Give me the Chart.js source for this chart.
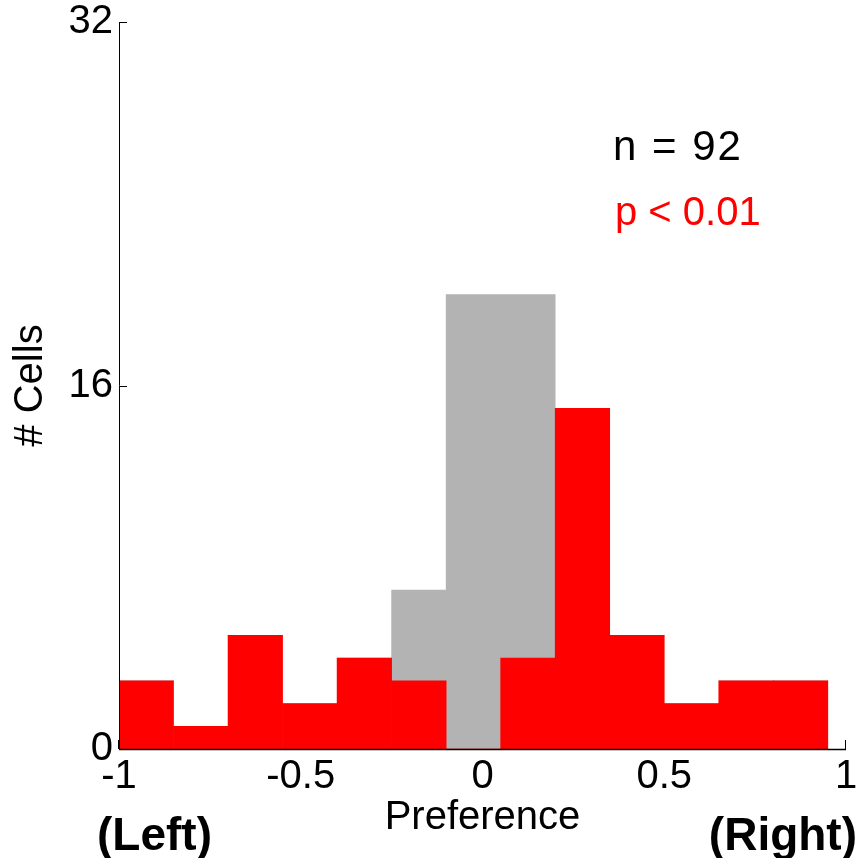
<!DOCTYPE html>
<html>
<head>
<meta charset="utf-8">
<title>Preference</title>
<script src="https://cdn.jsdelivr.net/npm/chart.js@4.4.1/dist/chart.umd.min.js"></script>
<style>
  html, body { margin: 0; padding: 0; background: #fff; }
</style>
</head>
<body>
<canvas id="grafico" width="868" height="858"></canvas>
<script>
// centros de los bins (ancho 0.15, de -1 a 0.95)
const centros = [-0.925, -0.775, -0.625, -0.475, -0.325, -0.175, -0.025, 0.125, 0.275, 0.425, 0.575, 0.725, 0.875];
// celdas significativas (rojo)
const rojos = [3, 1, 5, 2, 4, 3, 0, 4, 15, 5, 2, 3, 3];
// celdas no significativas (gris)
const grises = [0, 0, 0, 0, 0, 4, 20, 16, 0, 0, 0, 0, 0];
const ticksX = [-1, -0.5, 0, 0.5, 1];
const ticksY = [0, 16, 32];

const fuente = 'Liberation Sans, Arial, sans-serif';

// ticks hacia adentro, debajo de las barras
const marcas = {
  id: 'marcas',
  beforeDatasetsDraw(chart) {
    const { ctx, chartArea: a, scales: { x, y } } = chart;
    ctx.save();
    ctx.strokeStyle = '#000';
    ctx.lineWidth = 1;
    ctx.beginPath();
    ticksY.forEach(v => {
      const py = Math.round(y.getPixelForValue(v)) + 0.5;
      ctx.moveTo(a.left, py);
      ctx.lineTo(a.left + 8, py);
    });
    ticksX.forEach(v => {
      const px = Math.round(x.getPixelForValue(v)) - 0.5;
      ctx.moveTo(px, a.bottom);
      ctx.lineTo(px, a.bottom - 9);
    });
    ctx.stroke();
    ctx.restore();
  },
  // ejes y textos encima
  afterDatasetsDraw(chart) {
    const { ctx, chartArea: a } = chart;
    ctx.save();
    ctx.strokeStyle = '#000';
    ctx.lineWidth = 1;
    ctx.beginPath();
    ctx.moveTo(a.left + 0.5, a.top);
    ctx.lineTo(a.left + 0.5, a.bottom);
    ctx.stroke();
    ctx.lineWidth = 1.5;
    ctx.beginPath();
    ctx.moveTo(a.left, a.bottom + 0.5);
    ctx.lineTo(a.right, a.bottom + 0.5);
    ctx.stroke();

    ctx.textBaseline = 'alphabetic';
    ctx.textAlign = 'left';
    ctx.fillStyle = '#000';
    ctx.font = '42px ' + fuente;
    ctx.letterSpacing = '2px';
    ctx.fillText('n = 92', 613, 160);
    ctx.letterSpacing = '0px';
    ctx.fillStyle = '#ff0000';
    ctx.font = '40px ' + fuente;
    ctx.fillText('p < 0.01', 615, 225);

    ctx.fillStyle = '#000';
    ctx.font = 'bold 46px ' + fuente;
    ctx.fillText('(Left)', 97, 850);
    ctx.textAlign = 'right';
    ctx.fillText('(Right)', 857, 850);
    ctx.restore();
  }
};

const ctx = document.getElementById('grafico').getContext('2d');
const grafico = new Chart(ctx, {
  type: 'bar',
  data: {
    datasets: [
      {
        label: 'p < 0.01',
        data: centros.map((c, i) => ({ x: c, y: rojos[i] })),
        backgroundColor: '#ff0000',
        borderWidth: 0,
        barPercentage: 1,
        categoryPercentage: 1
      },
      {
        label: 'n.s.',
        data: centros.map((c, i) => ({ x: c, y: grises[i] })),
        backgroundColor: '#b3b3b3',
        borderWidth: 0,
        barPercentage: 1,
        categoryPercentage: 1
      }
    ]
  },
  options: {
    responsive: false,
    animation: false,
    devicePixelRatio: 1,
    layout: { padding: { left: 0, top: 22, right: 22, bottom: 0 } },
    plugins: {
      legend: { display: false },
      tooltip: { enabled: false }
    },
    scales: {
      x: {
        type: 'linear',
        stacked: true,
        min: -1,
        max: 1,
        offset: false,
        grid: { display: false, drawTicks: false },
        border: { display: false },
        afterBuildTicks: s => { s.ticks = ticksX.map(v => ({ value: v })); },
        afterFit: s => { s.height = 109; },
        ticks: {
          color: '#000',
          padding: 8,
          maxRotation: 0,
          autoSkip: false,
          font: { family: fuente, size: 40, lineHeight: 1 },
          callback: v => String(v)
        },
        title: {
          display: true,
          text: 'Preference',
          color: '#000',
          font: { family: fuente, size: 40 },
          padding: { top: 0, bottom: 16 }
        }
      },
      y: {
        stacked: true,
        min: 0,
        max: 32,
        grid: { display: false, drawTicks: false },
        border: { display: false },
        afterBuildTicks: s => { s.ticks = ticksY.map(v => ({ value: v })); },
        afterFit: s => { s.width = 119; },
        ticks: {
          color: '#000',
          padding: 6,
          autoSkip: false,
          font: { family: fuente, size: 40, lineHeight: 0.8 },
          callback: v => String(v)
        },
        title: {
          display: true,
          text: '# Cells',
          color: '#000',
          font: { family: fuente, size: 40 },
          padding: { top: 7, bottom: 0 }
        }
      }
    }
  },
  plugins: [marcas]
});
</script>
</body>
</html>
